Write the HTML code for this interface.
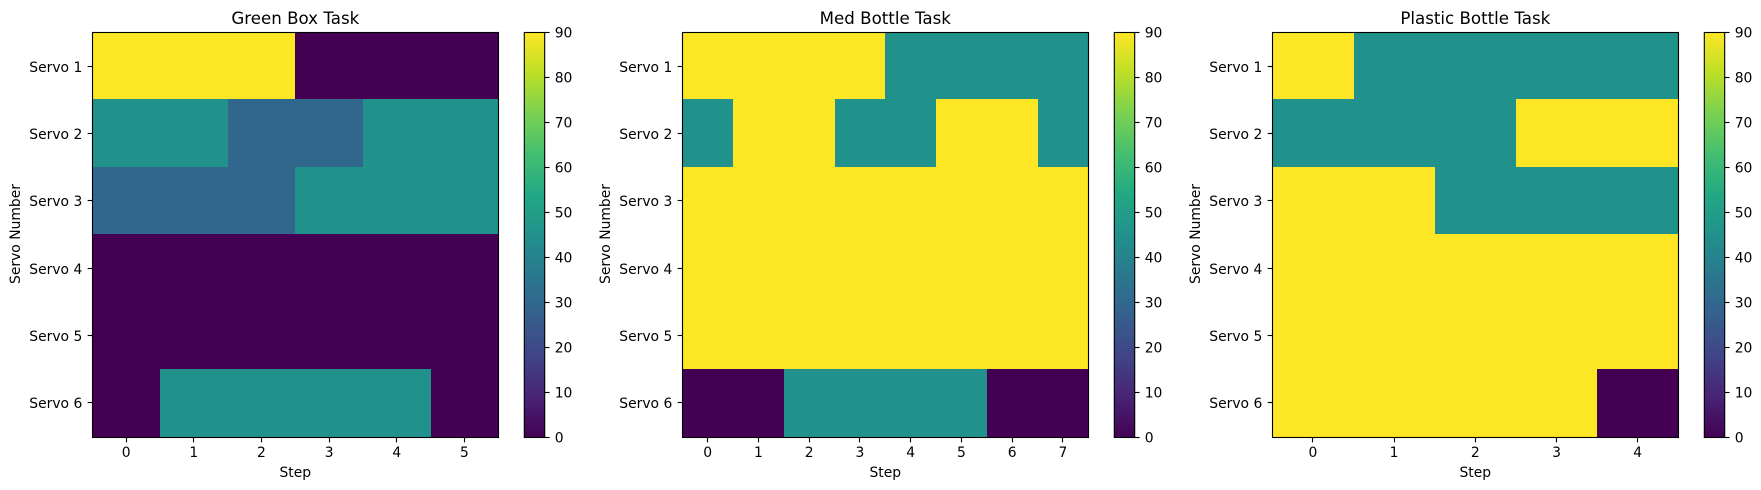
<!DOCTYPE html>
<html>
<head>
<meta charset="utf-8">
<title>Servo Task Heatmaps</title>
<style>
html,body{margin:0;padding:0;background:#fff;width:1761px;height:490px;overflow:hidden}
svg{display:block}
text{font-family:"DejaVu Sans","Liberation Sans",sans-serif;fill:#000}
</style>
</head>
<body>
<svg id="chart" width="1761" height="490" viewBox="0 0 1761 490" xmlns="http://www.w3.org/2000/svg"></svg>
<script>
const servoLabels = ["Servo 1", "Servo 2", "Servo 3", "Servo 4", "Servo 5", "Servo 6"];
const colorbarTicks = [0, 10, 20, 30, 40, 50, 60, 70, 80, 90];
const taskTitles = ["Green Box Task", "Med Bottle Task", "Plastic Bottle Task"];
const greenBoxValues = [
  [90, 90, 90, 0, 0, 0],
  [45, 45, 30, 30, 45, 45],
  [30, 30, 30, 45, 45, 45],
  [0, 0, 0, 0, 0, 0],
  [0, 0, 0, 0, 0, 0],
  [0, 45, 45, 45, 45, 0]
];
const medBottleValues = [
  [90, 90, 90, 90, 45, 45, 45, 45],
  [45, 90, 90, 45, 45, 90, 90, 45],
  [90, 90, 90, 90, 90, 90, 90, 90],
  [90, 90, 90, 90, 90, 90, 90, 90],
  [90, 90, 90, 90, 90, 90, 90, 90],
  [0, 0, 45, 45, 45, 45, 0, 0]
];
const plasticBottleValues = [
  [90, 45, 45, 45, 45],
  [45, 45, 45, 90, 90],
  [90, 90, 45, 45, 45],
  [90, 90, 90, 90, 90],
  [90, 90, 90, 90, 90],
  [90, 90, 90, 90, 0]
];
const viridisStops = ["#440154", "#482475", "#414487", "#355f8d", "#2a788e", "#21918c", "#22a884", "#44bf70", "#7ad151", "#bddf26", "#fde725"];
const panelValues = [greenBoxValues, medBottleValues, plasticBottleValues];

const SVG_NS = "http://www.w3.org/2000/svg";
const chart = document.getElementById("chart");
const AX_LEFT = 92.3, AX_WIDTH = 406, AX_TOP = 32, AX_HEIGHT = 404;
const PANEL_STEP = 590;
const CB_OFFSET = 432, CB_WIDTH = 20.4;
const V_MIN = 0, V_MAX = 90;
const TICK_LEN = 4.86, LINE_W = 1.11, FONT = 13.89, TITLE_FONT = 16.67;

function el(tag, attrs, parent, text) {
  const node = document.createElementNS(SVG_NS, tag);
  for (const k in attrs) node.setAttribute(k, attrs[k]);
  if (text !== undefined) node.textContent = text;
  parent.appendChild(node);
  return node;
}
function hex(c) {
  return [1, 3, 5].map(i => parseInt(c.substr(i, 2), 16));
}
function viridis(t) {
  const p = Math.max(0, Math.min(1, t)) * (viridisStops.length - 1);
  const i = Math.min(Math.floor(p), viridisStops.length - 2);
  const a = hex(viridisStops[i]), b = hex(viridisStops[i + 1]), f = p - i;
  return "rgb(" + a.map((v, j) => Math.round(v + (b[j] - v) * f)).join(",") + ")";
}
function colorOf(v) {
  return viridis((v - V_MIN) / (V_MAX - V_MIN));
}
function snap(v) {
  return Math.round(v) + 0.5;
}

const defs = el("defs", {}, chart);
const grad = el("linearGradient", {id: "viridis-grad", x1: 0, y1: 1, x2: 0, y2: 0}, defs);
viridisStops.forEach((c, i) => {
  el("stop", {offset: i / (viridisStops.length - 1), "stop-color": c}, grad);
});

panelValues.forEach((rows, p) => {
  const left = AX_LEFT + p * PANEL_STEP;
  const bottom = AX_TOP + AX_HEIGHT;
  const nRows = rows.length;
  const nCols = rows[0].length;
  const xEdge = c => left + (c / nCols) * AX_WIDTH;
  const yEdge = r => AX_TOP + (r / nRows) * AX_HEIGHT;
  const xCenter = c => xEdge(c + 0.5);
  const yCenter = r => yEdge(r + 0.5);
  const centerX = left + AX_WIDTH / 2;

  const panel = el("g", {}, chart);
  
  

  rows.forEach((row, r) => {
    row.forEach((v, c) => {
      const x0 = Math.round(xEdge(c)), x1 = Math.round(xEdge(c + 1));
      const y0 = Math.round(yEdge(r));
      const y1 = r === nRows - 1 ? Math.round(bottom) + 1 : Math.round(yEdge(r + 1));
      const cell = el("rect", {x: x0, y: y0, width: x1 - x0, height: y1 - y0, fill: colorOf(v), "shape-rendering": "crispEdges"}, panel);
      
      
    });
  });

  const frame = el("rect", {x: snap(left - 0.5), y: AX_TOP + 0.5, width: Math.round(AX_WIDTH), height: AX_HEIGHT + 1, fill: "none", stroke: "#000", "stroke-width": LINE_W}, panel);
  
  

  servoLabels.forEach((label, r) => {
    const y = snap(yCenter(r));
    const xa = snap(left - 0.5);
    const tick = el("line", {x1: xa - TICK_LEN, x2: xa, y1: y, y2: y, stroke: "#000", "stroke-width": LINE_W}, panel);
    
    
    const lab = el("text", {x: left - 10, y: y + 5.3, "text-anchor": "end", "font-size": FONT}, panel, label);
    
    
  });

  for (let c = 0; c < nCols; c++) {
    const x = snap(xCenter(c) - 0.5);
    const tick = el("line", {x1: x, x2: x, y1: bottom + 1.5, y2: bottom + 1.5 + TICK_LEN, stroke: "#000", "stroke-width": LINE_W}, panel);
    
    
    const lab = el("text", {x: xCenter(c), y: 457, "text-anchor": "middle", "font-size": FONT}, panel, String(c));
    
    
  }

  const title = el("text", {x: centerX, y: 24, "text-anchor": "middle", "font-size": TITLE_FONT}, panel, taskTitles[p]);
  
  

  const xTitle = el("text", {x: centerX, y: 477, "text-anchor": "middle", "font-size": FONT}, panel, "Step");
  
  

  const yTitleX = left - 72.3;
  const yTitleY = AX_TOP + AX_HEIGHT / 2;
  const yTitle = el("text", {x: yTitleX, y: yTitleY, "text-anchor": "middle", "font-size": FONT, transform: "rotate(-90 " + yTitleX + " " + yTitleY + ")"}, panel, "Servo Number");
  
  

  const cbLeft = left + CB_OFFSET;
  const cb = el("g", {}, panel);
  
  
  const cbBar = el("rect", {x: cbLeft, y: AX_TOP + 0.5, width: CB_WIDTH, height: AX_HEIGHT + 1, fill: "url(#viridis-grad)", stroke: "#000", "stroke-width": LINE_W}, cb);
  
  
  colorbarTicks.forEach(v => {
    const y = AX_TOP + 0.5 + (AX_HEIGHT + 1) * (1 - (v - V_MIN) / (V_MAX - V_MIN));
    const yy = snap(y - 0.5);
    const tick = el("line", {x1: cbLeft + CB_WIDTH, x2: cbLeft + CB_WIDTH + TICK_LEN, y1: yy, y2: yy, stroke: "#000", "stroke-width": LINE_W}, cb);
    
    
    const lab = el("text", {x: cbLeft + CB_WIDTH + 10, y: y + 5.2, "font-size": FONT}, cb, String(v));
    
    
  });
});
</script>
</body>
</html>
